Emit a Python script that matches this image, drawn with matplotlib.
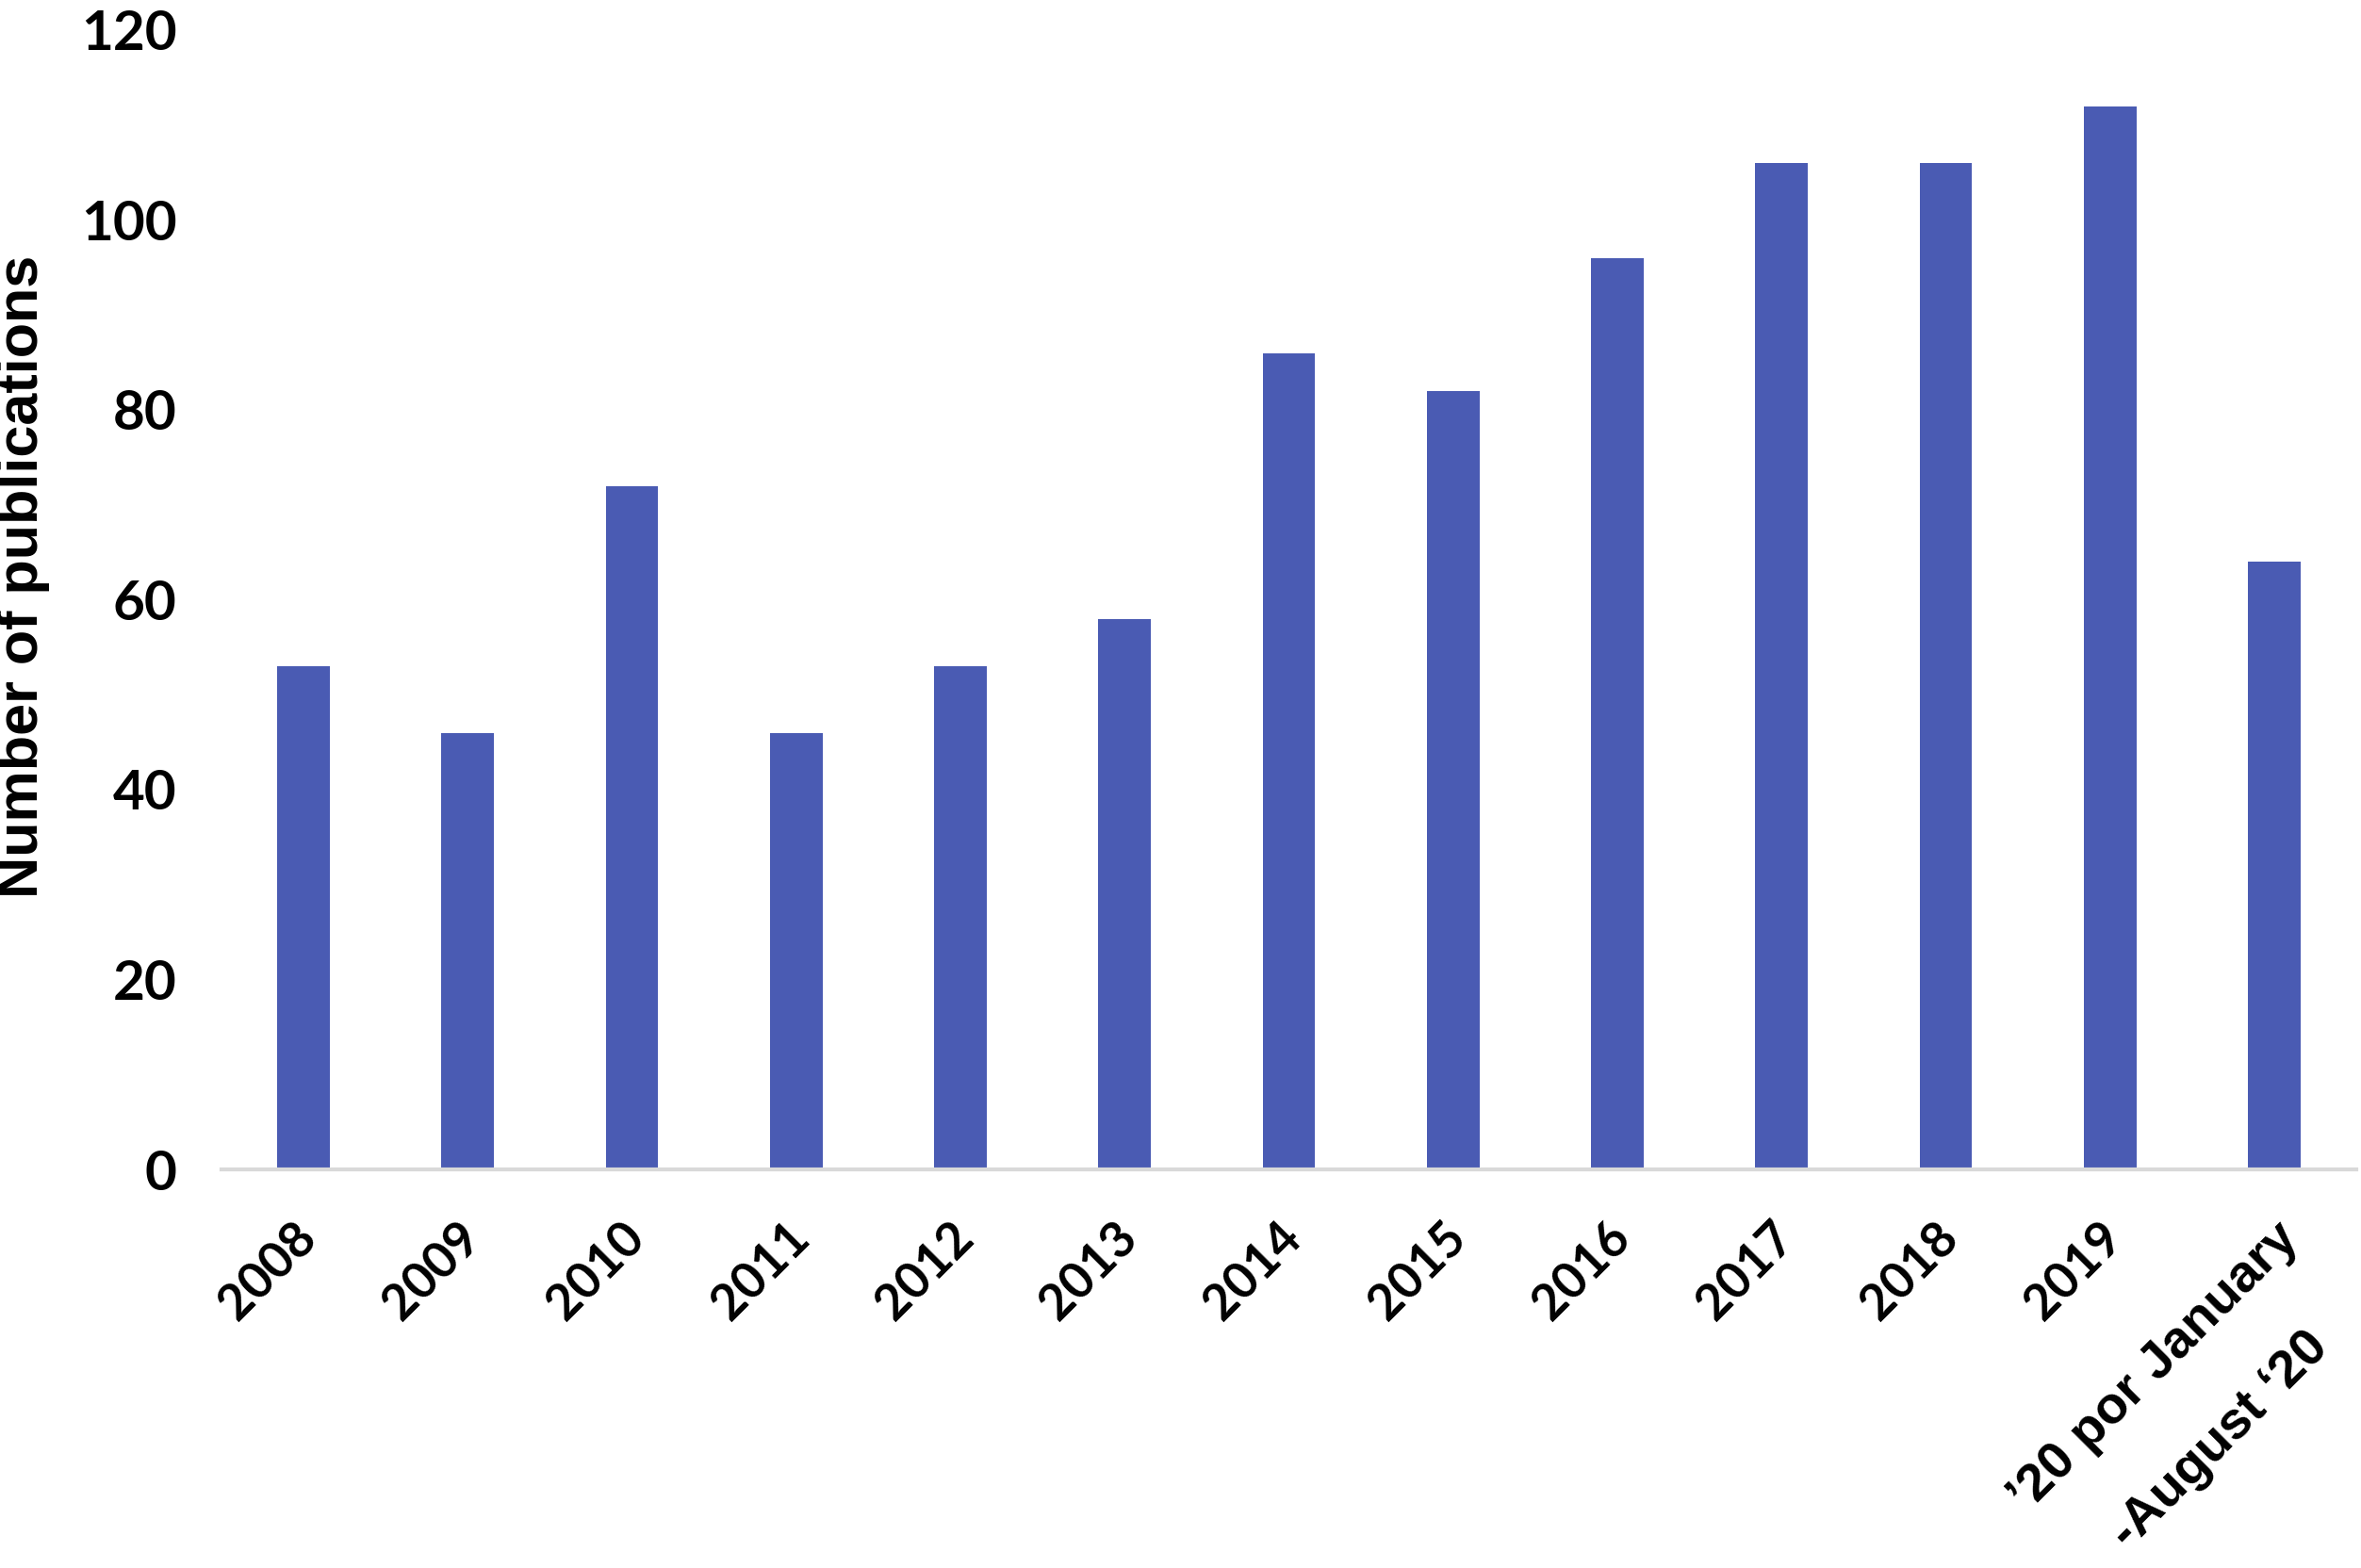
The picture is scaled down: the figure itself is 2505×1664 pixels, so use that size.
import matplotlib
matplotlib.use("Agg")
import matplotlib.pyplot as plt
import matplotlib.transforms as mtrans
from matplotlib import font_manager

years = ["2008", "2009", "2010", "2011", "2012", "2013", "2014", "2015",
         "2016", "2017", "2018", "2019", "\u201920 por January"]
last_line2 = "-August \u201820"
pubs = [53, 46, 72, 46, 53, 58, 86, 82, 96, 106, 106, 112, 64]
yticks = [0, 20, 40, 60, 80, 100, 120]

names = {f.name for f in font_manager.fontManager.ttflist}
if "Liberation Sans Narrow" in names:
    ylab_font, ylab_size = "Liberation Sans Narrow", 26
else:
    ylab_font, ylab_size = "Liberation Sans", 22

fig = plt.figure(figsize=(12.525, 8.32), dpi=200)
ax = fig.add_axes([0.0938, 0.2542, 0.9042, 0.7266])

x = list(range(len(years)))
ax.bar(x, pubs, width=0.32, color="#4a5bb3", zorder=2)

ax.set_xlim(-0.5, len(years) - 0.5)
ax.set_ylim(0, 120)
ax.set_yticks(yticks)
ax.set_yticklabels([str(v) for v in yticks], fontfamily="Lato", fontweight="bold", fontsize=21)
ax.tick_params(axis="y", length=0, pad=17)
ax.tick_params(axis="x", length=0, pad=17)

ax.set_xticks(x)
ax.set_xticklabels(years, rotation=45, ha="right", va="top", rotation_mode="anchor",
                   fontfamily="Lato", fontweight="bold", fontsize=19)
lbls = ax.get_xticklabels()
for t in lbls[:-1]:
    t.set_transform(t.get_transform() + mtrans.ScaledTranslation(-12 / 200, 0, fig.dpi_scale_trans))
lbls[-1].set_fontfamily("Liberation Sans")
lbls[-1].set_fontsize(20)

# second line of the last category label
tr = mtrans.blended_transform_factory(ax.transData, ax.transAxes) + \
    mtrans.ScaledTranslation(31 / 200, -162 / 200, fig.dpi_scale_trans)
ax.text(x[-1], 0, last_line2, transform=tr, rotation=45, ha="right", va="top",
        rotation_mode="anchor", fontfamily="Liberation Sans", fontweight="bold", fontsize=20)

for s in ["top", "right", "left"]:
    ax.spines[s].set_visible(False)
ax.spines["bottom"].set_color("#d9d9d9")
ax.spines["bottom"].set_linewidth(1.5)
ax.spines["bottom"].set_zorder(3)

ax.set_ylabel("Number of publications", fontfamily=ylab_font, fontweight="bold", fontsize=ylab_size)
ax.yaxis.set_label_coords(-0.0804, 0.52)

fig.savefig("out.png", dpi=200)
